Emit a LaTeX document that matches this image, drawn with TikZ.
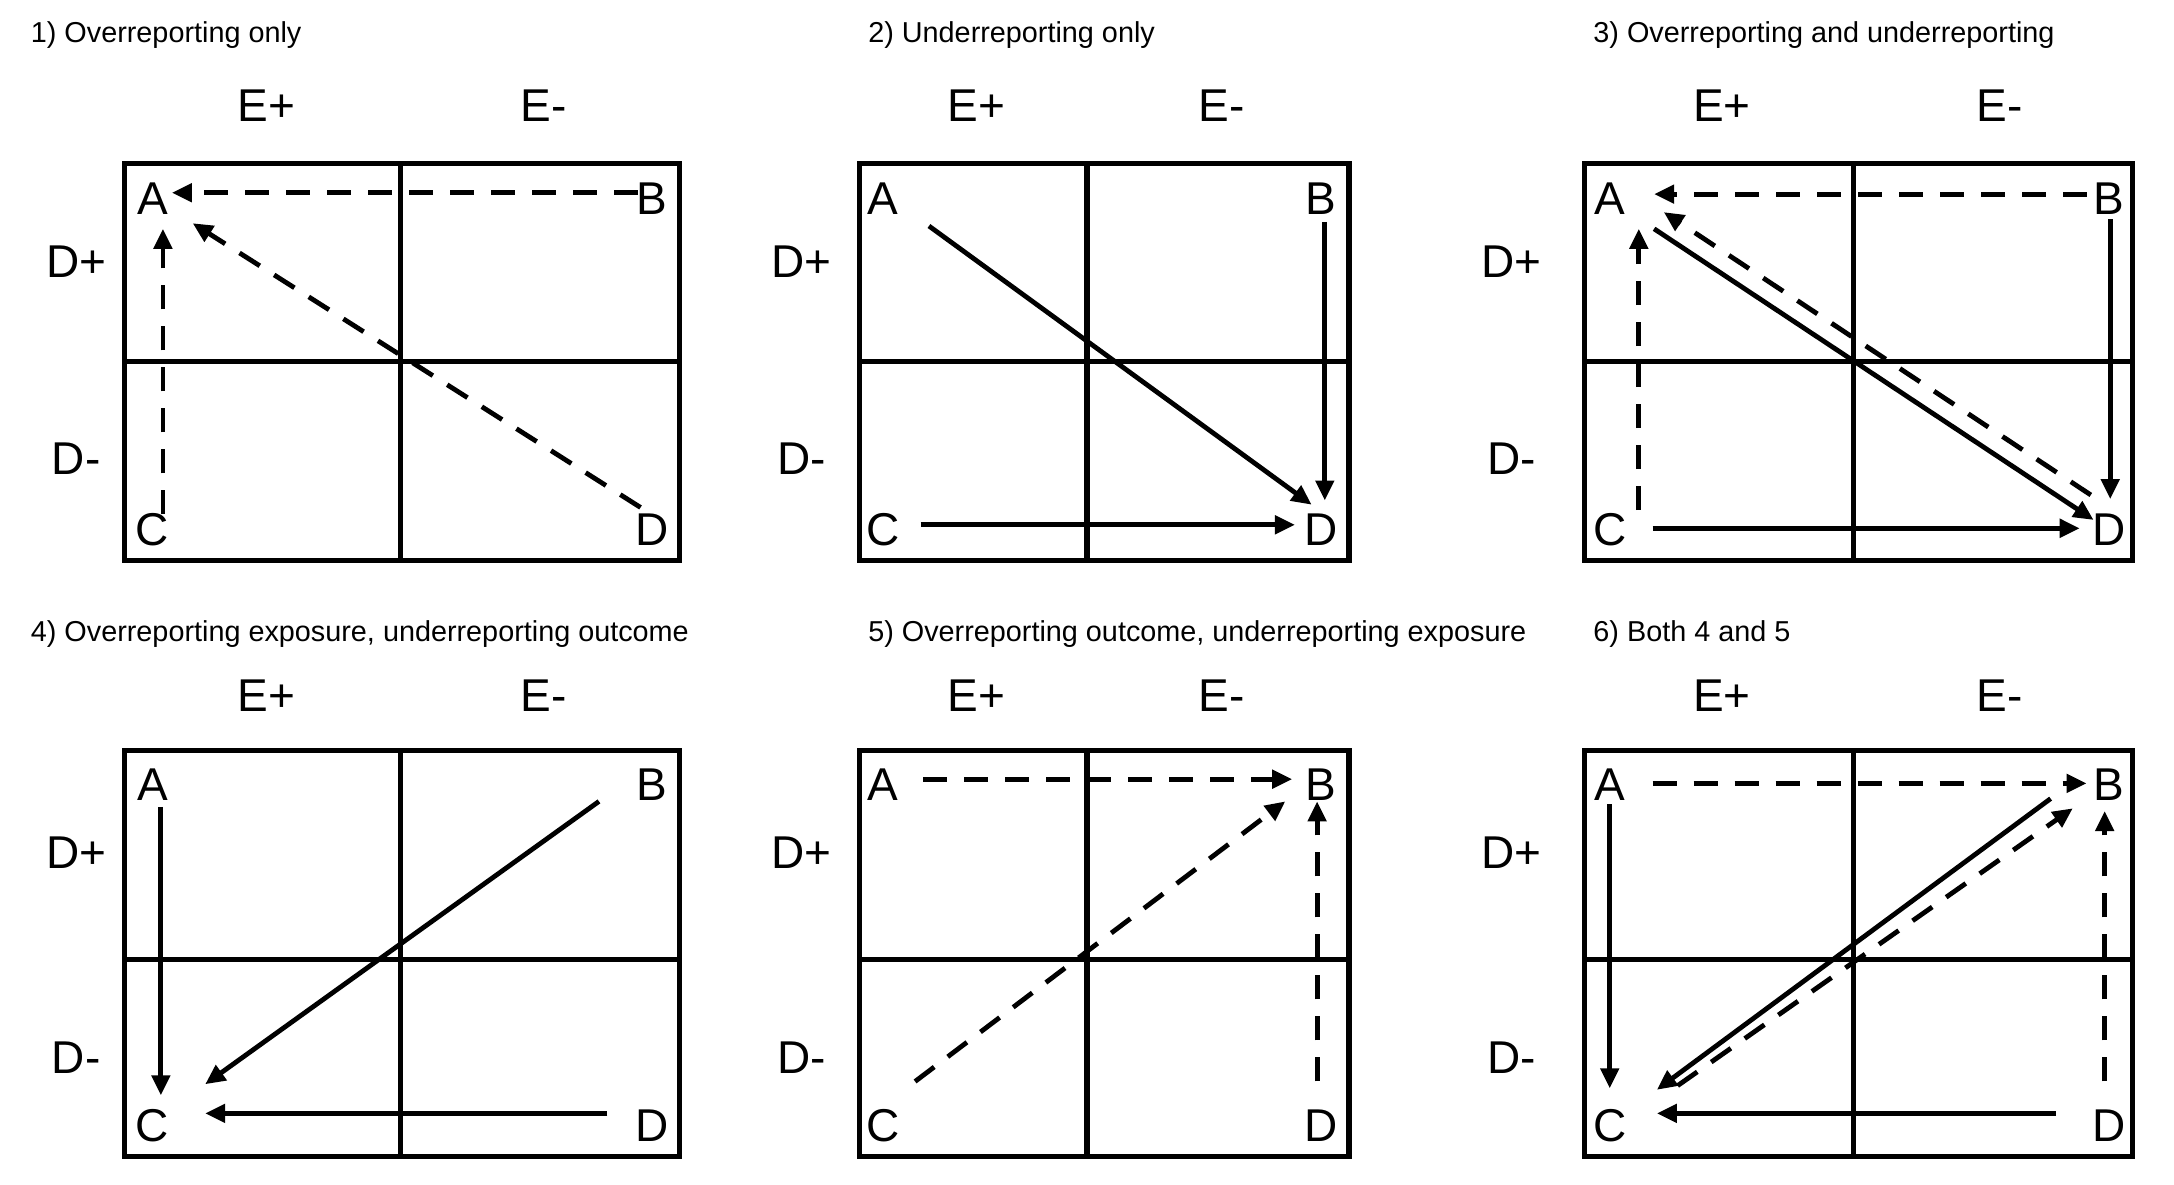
\documentclass[tikz,border=0pt]{standalone}
\usepackage{fontspec}
\setmainfont{Liberation Sans}
\usetikzlibrary{arrows.meta}
\newcommand{\cellgrid}[6]{%
  \draw[gridline] (#1,#3) rectangle (#2,#4);
  \draw[gridline] (#5,#3) -- (#5,#4);
  \draw[gridline] (#1,#6) -- (#2,#6);}
\begin{document}
\begin{tikzpicture}[x=0.69325pt,y=-0.69325pt,
  gridline/.style={line width=2.6pt},
  lbl/.style={inner sep=0pt,font=\fontsize{23}{27}\selectfont},
  ttl/.style={inner sep=0pt,anchor=base west,font=\fontsize{14.4}{17}\selectfont},
  solidarr/.style={line width=2.4pt,-{Triangle[length=10pt,width=9pt]}},
  dasharr/.style={solidarr,dash pattern=on 12pt off 8.5pt}]
\useasboundingbox[fill=white] (0,0) rectangle (1568,854);

% ---------- grids ----------
\cellgrid{90}{490}{118}{404}{289}{261}
\cellgrid{620}{973}{118}{404}{784}{261}
\cellgrid{1143}{1538}{118}{404}{1337}{261}
\cellgrid{90}{490}{541}{834}{289}{692}
\cellgrid{620}{973}{541}{834}{784}{692}
\cellgrid{1143}{1538}{541}{834}{1337}{692}

% ---------- titles ----------
\node[ttl] (t1) at (22,31) {1) Overreporting only};
\node[ttl] (t2) at (626,31) {2) Underreporting only};
\node[ttl] (t3) at (1149,31) {3) Overreporting and underreporting};
\node[ttl] (t4) at (22,463) {4) Overreporting exposure, underreporting outcome};
\node[ttl] (t5) at (626,463) {5) Overreporting outcome, underreporting exposure};
\node[ttl] (t6) at (1149,463) {6) Both 4 and 5};

% ---------- header labels ----------
\foreach \p/\ex/\emx/\dx/\ax/\bx/\ey/\dpy/\dmy/\aby/\cdy in
  {1/192/392/55/110/470/76/189/331/143/382,
   2/704/881/578/637/953/76/189/331/143/382,
   3/1242/1442/1090/1161/1521/76/189/331/143/382,
   4/192/392/55/110/470/502/615/763/566/812,
   5/704/881/578/637/953/502/615/763/566/812,
   6/1242/1442/1090/1161/1521/502/615/763/566/812}{
  \node[lbl] (p\p Ep) at (\ex,\ey) {E+};
  \node[lbl] (p\p Em) at (\emx,\ey) {E-};
  \node[lbl] (p\p Dp) at (\dx,\dpy) {D+};
  \node[lbl] (p\p Dm) at (\dx,\dmy) {D-};
  \node[lbl] (p\p A) at (\ax,\aby) {A};
  \node[lbl] (p\p B) at (\bx,\aby) {B};
  \node[lbl] (p\p C) at (\ax,\cdy) {C};
  \node[lbl] (p\p D) at (\bx,\cdy) {D};
}

% ---------- panel 1 ----------
\coordinate (p1ba0) at (460,139);  \coordinate (p1ba1) at (124,139);
\coordinate (p1ca0) at (117.5,371); \coordinate (p1ca1) at (117.5,165);
\coordinate (p1da0) at (462,366);  \coordinate (p1da1) at (139,161);
\draw[dasharr] (p1ba0) -- (p1ba1);
\draw[dasharr] (p1ca0) -- (p1ca1);
\draw[dasharr] (p1da0) -- (p1da1);

% ---------- panel 2 ----------
\coordinate (p2ad0) at (670,163);  \coordinate (p2ad1) at (946,364);
\coordinate (p2bd0) at (955.5,160); \coordinate (p2bd1) at (955.5,361);
\coordinate (p2cd0) at (664,378.5); \coordinate (p2cd1) at (934,378.5);
\draw[solidarr] (p2ad0) -- (p2ad1);
\draw[solidarr] (p2bd0) -- (p2bd1);
\draw[solidarr] (p2cd0) -- (p2cd1);

% ---------- panel 3 ----------
\coordinate (p3ba0) at (1505,140); \coordinate (p3ba1) at (1193,140);
\coordinate (p3ca0) at (1182,368); \coordinate (p3ca1) at (1182,165);
\coordinate (p3da0) at (1508,357); \coordinate (p3da1) at (1200,153);
\coordinate (p3ad0) at (1193,165); \coordinate (p3ad1) at (1510,375);
\coordinate (p3bd0) at (1522,158); \coordinate (p3bd1) at (1522,360);
\coordinate (p3cd0) at (1192,381); \coordinate (p3cd1) at (1500,381);
\draw[dasharr] (p3ba0) -- (p3ba1);
\draw[dasharr] (p3ca0) -- (p3ca1);
\draw[dasharr] (p3da0) -- (p3da1);
\draw[solidarr] (p3ad0) -- (p3ad1);
\draw[solidarr] (p3bd0) -- (p3bd1);
\draw[solidarr] (p3cd0) -- (p3cd1);

% ---------- panel 4 ----------
\coordinate (p4ac0) at (116,582); \coordinate (p4ac1) at (116,790);
\coordinate (p4bc0) at (432,578); \coordinate (p4bc1) at (148,782);
\coordinate (p4dc0) at (438,803); \coordinate (p4dc1) at (148,803);
\draw[solidarr] (p4ac0) -- (p4ac1);
\draw[solidarr] (p4bc0) -- (p4bc1);
\draw[solidarr] (p4dc0) -- (p4dc1);

% ---------- panel 5 ----------
\coordinate (p5ab0) at (666,562); \coordinate (p5ab1) at (932,562);
\coordinate (p5cb0) at (660,780); \coordinate (p5cb1) at (927,578);
\coordinate (p5db0) at (950,780); \coordinate (p5db1) at (950,578);
\draw[dasharr] (p5ab0) -- (p5ab1);
\draw[dasharr] (p5cb0) -- (p5cb1);
\draw[dasharr] (p5db0) -- (p5db1);

% ---------- panel 6 ----------
\coordinate (p6ab0) at (1192,565); \coordinate (p6ab1) at (1505,565);
\coordinate (p6ac0) at (1161,580); \coordinate (p6ac1) at (1161,785);
\coordinate (p6bc0) at (1479,576); \coordinate (p6bc1) at (1195,786);
\coordinate (p6cb0) at (1210,783); \coordinate (p6cb1) at (1495,583);
\coordinate (p6db0) at (1518,780); \coordinate (p6db1) at (1518,585);
\coordinate (p6dc0) at (1483,803); \coordinate (p6dc1) at (1195,803);
\draw[dasharr] (p6ab0) -- (p6ab1);
\draw[solidarr] (p6ac0) -- (p6ac1);
\draw[solidarr] (p6bc0) -- (p6bc1);
\draw[dasharr] (p6cb0) -- (p6cb1);
\draw[dasharr] (p6db0) -- (p6db1);
\draw[solidarr] (p6dc0) -- (p6dc1);
\end{tikzpicture}
\end{document}
